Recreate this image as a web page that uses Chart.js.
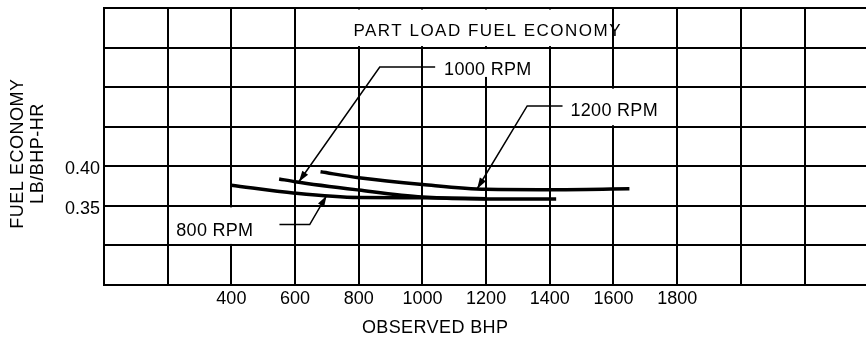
<!DOCTYPE html>
<html>
<head>
<meta charset="utf-8">
<title>Part Load Fuel Economy</title>
<script src="https://cdn.jsdelivr.net/npm/chart.js@4.4.1/dist/chart.umd.min.js"></script>
<style>
    html, body { margin: 0; padding: 0; background: #fff; }
</style>
</head>
<body>
<canvas id="grafico-economia" width="866" height="338"></canvas>
<script>
// observed bhp and fuel economy (lb/bhp-hr) along each rpm line
var bhp800 = [400, 600, 800, 1000, 1200];
var fuel800 = [0.376, 0.366, 0.3605, 0.3602, 0.359];

var bhp1000 = [550, 600, 800, 1000, 1200, 1420];
var fuel1000 = [0.384, 0.3805, 0.370, 0.3612, 0.3588, 0.3588];

var bhp1200 = [680, 800, 1000, 1200, 1400, 1650];
var fuel1200 = [0.393, 0.3855, 0.377, 0.371, 0.3705, 0.3715];

var xTickLabels = [400, 600, 800, 1000, 1200, 1400, 1600, 1800];
var yTickLabels = [0.35, 0.40];

var fonte = '"Liberation Sans", Arial, sans-serif';

// white boxes over the grid behind the title and the rpm labels [x0, x1, yTop, yBottom]
var caixas = [
    [600, 1600, 0.60, 0.55],
    [1050, 1375, 0.55, 0.511],
    [1440, 1770, 0.50, 0.45],
    [217, 520, 0.35, 0.30]
];

// rpm labels with their leader lines (start -> bend -> arrow tip)
var chamadas = [
    { texto: '1000 RPM', pos: [1068, 0.5159], inicio: [1040, 0.5254], dobra: [866, 0.5254], ponta: [612, 0.3805] },
    { texto: '1200 RPM', pos: [1465, 0.4638], inicio: [1440, 0.4763], dobra: [1329, 0.4763], ponta: [1172, 0.3716] },
    { texto: '800 RPM', pos: [227, 0.3116], inicio: [551, 0.3263], dobra: [646, 0.3263], ponta: [699, 0.3628] }
];

function pares(xs, ys) {
    return xs.map(function (v, i) { return { x: v, y: ys[i] }; });
}

function seta(ctx, x0, y0, x1, y1) {
    var ang = Math.atan2(y1 - y0, x1 - x0);
    var comp = 11, larg = 3.5;
    ctx.beginPath();
    ctx.moveTo(x1, y1);
    ctx.lineTo(x1 - comp * Math.cos(ang) + larg * Math.sin(ang), y1 - comp * Math.sin(ang) - larg * Math.cos(ang));
    ctx.lineTo(x1 - comp * Math.cos(ang) - larg * Math.sin(ang), y1 - comp * Math.sin(ang) + larg * Math.cos(ang));
    ctx.closePath();
    ctx.fill();
}

var anotacoes = {
    id: 'anotacoes',
    afterDatasetsDraw: function (chart) {
        var ctx = chart.ctx, sx = chart.scales.x, sy = chart.scales.y;
        var area = chart.chartArea;
        ctx.save();

        // blank out the grid where the title and labels sit
        ctx.fillStyle = '#ffffff';
        caixas.forEach(function (c) {
            var x0 = sx.getPixelForValue(c[0]) + 1.5;
            var x1 = sx.getPixelForValue(c[1]) - 1.5;
            var y0 = sy.getPixelForValue(c[2]) + 1.5;
            var y1 = sy.getPixelForValue(c[3]) - 1.5;
            ctx.fillRect(x0, y0, x1 - x0, y1 - y0);
        });

        ctx.fillStyle = '#000';
        ctx.strokeStyle = '#000';
        ctx.textBaseline = 'alphabetic';

        // title
        ctx.font = '17px ' + fonte;
        ctx.letterSpacing = '1.5px';
        ctx.textAlign = 'center';
        ctx.fillText('PART LOAD FUEL ECONOMY', sx.getPixelForValue(1205), sy.getPixelForValue(0.5641));

        // rpm labels and leaders
        ctx.font = '18px ' + fonte;
        ctx.letterSpacing = '0.3px';
        ctx.textAlign = 'left';
        ctx.lineWidth = 1.5;
        chamadas.forEach(function (c) {
            ctx.fillText(c.texto, sx.getPixelForValue(c.pos[0]), sy.getPixelForValue(c.pos[1]));
            var bx = sx.getPixelForValue(c.dobra[0]), by = sy.getPixelForValue(c.dobra[1]);
            var px = sx.getPixelForValue(c.ponta[0]), py = sy.getPixelForValue(c.ponta[1]);
            ctx.beginPath();
            ctx.moveTo(sx.getPixelForValue(c.inicio[0]), sy.getPixelForValue(c.inicio[1]));
            ctx.lineTo(bx, by);
            ctx.lineTo(px, py);
            ctx.stroke();
            seta(ctx, bx, by, px, py);
        });

        // axis titles
        ctx.letterSpacing = '0.4px';
        ctx.textAlign = 'center';
        ctx.fillText('OBSERVED BHP', sx.getPixelForValue(1040), area.bottom + 48);

        var cy = sy.getPixelForValue(0.416);
        ctx.translate(area.left - 81, cy);
        ctx.rotate(-Math.PI / 2);
        ctx.letterSpacing = '0.5px';
        ctx.fillText('FUEL ECONOMY', 0, 0);
        ctx.fillText('LB/BHP-HR', 0, 20);
        ctx.restore();
    }
};

var estiloCurva = {
    borderColor: '#000',
    borderWidth: 3.5,
    pointRadius: 0,
    fill: false,
    cubicInterpolationMode: 'monotone'
};

var graf = document.getElementById('grafico-economia').getContext('2d');

var grafico = new Chart(graf, {
    type: 'line',
    data: {
        datasets: [
            Object.assign({ label: '800 RPM', data: pares(bhp800, fuel800) }, estiloCurva),
            Object.assign({ label: '1000 RPM', data: pares(bhp1000, fuel1000) }, estiloCurva),
            Object.assign({ label: '1200 RPM', data: pares(bhp1200, fuel1200) }, estiloCurva)
        ]
    },
    options: {
        responsive: false,
        animation: false,
        layout: {
            padding: { left: 44, top: 8, right: 0, bottom: 0 }
        },
        plugins: {
            legend: { display: false },
            tooltip: { enabled: false }
        },
        scales: {
            x: {
                type: 'linear',
                min: 0,
                max: 2393,
                // grid every 200 bhp; the sheet is cut just before the 2400 line
                afterBuildTicks: function (scale) {
                    var ticks = [];
                    for (var v = 0; v <= 2200; v += 200) {
                        ticks.push({ value: v });
                    }
                    scale.ticks = ticks;
                },
                afterFit: function (scale) {
                    scale.height = 53;
                    scale.paddingLeft = 0;
                    scale.paddingRight = 0;
                },
                ticks: {
                    autoSkip: false,
                    maxRotation: 0,
                    padding: 3,
                    color: '#000',
                    font: { family: fonte, size: 18 },
                    callback: function (v) {
                        return xTickLabels.indexOf(v) >= 0 ? String(v) : '';
                    }
                },
                grid: { color: '#000', lineWidth: 2, drawTicks: false },
                border: { color: '#000', width: 2 }
            },
            y: {
                min: 0.25,
                max: 0.60,
                afterFit: function (scale) {
                    scale.width = 60;
                    scale.paddingTop = 0;
                    scale.paddingBottom = 0;
                },
                ticks: {
                    stepSize: 0.05,
                    padding: 4,
                    labelOffset: 3,
                    color: '#000',
                    font: { family: fonte, size: 18 },
                    callback: function (v) {
                        var achou = yTickLabels.some(function (t) { return Math.abs(t - v) < 1e-6; });
                        return achou ? v.toFixed(2) : '';
                    }
                },
                grid: { color: '#000', lineWidth: 2, drawTicks: false },
                border: { color: '#000', width: 2 }
            }
        }
    },
    plugins: [anotacoes]
});
</script>
</body>
</html>
